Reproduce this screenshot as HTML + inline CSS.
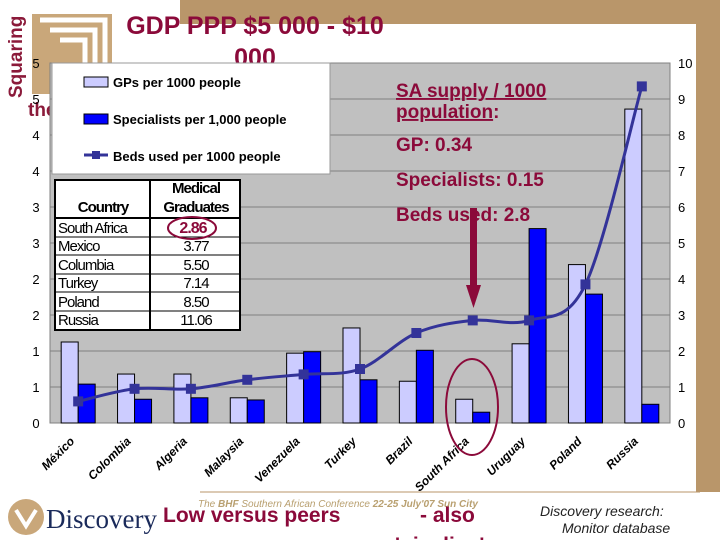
<!DOCTYPE html>
<html><head><meta charset="utf-8"><style>
body{margin:0;width:720px;height:540px;overflow:hidden;background:#fff;font-family:"Liberation Sans",sans-serif}
svg{position:absolute;left:0;top:0}
</style></head><body>
<svg width="720" height="540" viewBox="0 0 720 540">
<rect x="180" y="0" width="540" height="24" fill="#b9966a"/>
<rect x="696" y="0" width="24" height="492" fill="#b9966a"/>
<line x1="200" y1="492" x2="700" y2="492" stroke="#b9966a" stroke-width="1"/>
<g>
<rect x="32" y="14" width="80" height="80" fill="#c9a77a"/>
<path d="M40 20 L105 20 L105 85 M50 30 L95 30 L95 75 M60 40 L85 40 L85 65" stroke="#fff" stroke-width="5" fill="none"/>
<text x="22" y="98" transform="rotate(-90 22 98)" font-size="19" font-weight="bold" fill="#8b1a3a">Squaring</text>
<text x="28" y="116" font-size="19" font-weight="bold" fill="#8b1a3a">the</text>
</g>
<text x="255" y="34" text-anchor="middle" font-size="25" font-weight="bold" fill="#8b0a3a">GDP PPP $5 000 - $10</text>
<text x="255" y="66" text-anchor="middle" font-size="25" font-weight="bold" fill="#8b0a3a">000</text>
<rect x="50" y="63" width="620" height="360" fill="#c0c0c0" stroke="#808080"/>
<g id="grid"></g><g id="axes"></g><g id="bars"></g><g id="line"></g><g id="xl"></g>
<g>
<rect x="52" y="63" width="278" height="111" fill="#fff" stroke="#999"/>
<rect x="84" y="77" width="24" height="10" fill="#ccccff" stroke="#000"/>
<text x="113" y="87" font-size="13" font-weight="bold">GPs per 1000 people</text>
<rect x="84" y="114" width="24" height="10" fill="#0000ff" stroke="#000"/>
<text x="113" y="124" font-size="13" font-weight="bold">Specialists per 1,000 people</text>
<line x1="84" y1="155" x2="108" y2="155" stroke="#333399" stroke-width="3"/><rect x="92" y="151" width="8" height="8" fill="#333399"/>
<text x="113" y="161" font-size="13" font-weight="bold">Beds used per 1000 people</text>
</g>
<g font-size="15" letter-spacing="-1">
<rect x="55" y="180" width="185" height="150" fill="#fff" stroke="#000" stroke-width="2"/>
<line x1="150" y1="180" x2="150" y2="330" stroke="#000" stroke-width="2"/>
<line x1="55" y1="218" x2="240" y2="218" stroke="#000" stroke-width="2"/>
<line x1="55" y1="237" x2="240" y2="237" stroke="#000"/><line x1="55" y1="255" x2="240" y2="255" stroke="#000"/>
<line x1="55" y1="274" x2="240" y2="274" stroke="#000"/><line x1="55" y1="292" x2="240" y2="292" stroke="#000"/>
<line x1="55" y1="311" x2="240" y2="311" stroke="#000"/>
<text x="103" y="212" text-anchor="middle" font-weight="bold">Country</text>
<text x="196" y="193" text-anchor="middle" font-weight="bold">Medical</text>
<text x="196" y="212" text-anchor="middle" font-weight="bold">Graduates</text>
<text x="58" y="233">South Africa</text><text x="58" y="251">Mexico</text><text x="58" y="270">Columbia</text>
<text x="58" y="288">Turkey</text><text x="58" y="307">Poland</text><text x="58" y="325">Russia</text>
<text x="193" y="233" text-anchor="middle" font-weight="bold" fill="#8b0a3a" font-size="16">2.86</text>
<ellipse cx="192" cy="228" rx="24" ry="11" fill="none" stroke="#8b0a3a" stroke-width="2"/>
<text x="196" y="251" text-anchor="middle">3.77</text><text x="196" y="270" text-anchor="middle">5.50</text>
<text x="196" y="288" text-anchor="middle">7.14</text><text x="196" y="307" text-anchor="middle">8.50</text>
<text x="196" y="325" text-anchor="middle">11.06</text>
</g>
<g font-size="19" font-weight="bold" fill="#8b0a3a">
<text x="396" y="97" text-decoration="underline">SA supply / 1000</text>
<text x="396" y="118"><tspan text-decoration="underline">population</tspan>:</text>
<text x="396" y="151">GP: 0.34</text>
<text x="396" y="186">Specialists: 0.15</text>
<text x="396" y="221">Beds used: 2.8</text>
<rect x="470" y="208" width="7" height="80" fill="#8b0a3a"/>
<polygon points="466,285 481,285 473.5,308" fill="#8b0a3a"/>
</g>
<ellipse cx="472" cy="407" rx="26" ry="48" fill="none" stroke="#8b0a3a" stroke-width="2"/>
<g>
<circle cx="26" cy="517" r="18" fill="#c9a77a"/><path d="M16 510 L26 526 L36 510" stroke="#fff" stroke-width="4" fill="none"/>
<text x="46" y="528" font-family="Liberation Serif,serif" font-size="27" fill="#1a2a5a">Discovery</text>
<text x="198" y="507" font-size="10" font-style="italic" fill="#b9a070">The <tspan font-weight="bold">BHF</tspan> Southern African Conference <tspan font-weight="bold">22-25 July'07 Sun City</tspan></text>
<text x="163" y="522" font-size="21" font-weight="bold" fill="#8b0a3a">Low versus peers</text>
<text x="420" y="522" font-size="21" font-weight="bold" fill="#8b0a3a">- also</text>
<text x="395" y="552" font-size="21" font-weight="bold" fill="#8b0a3a">'pipeline'</text>
<text x="540" y="516" font-size="14" font-style="italic" fill="#222">Discovery research:</text>
<text x="562" y="533" font-size="14" font-style="italic" fill="#222">Monitor database</text>
</g>
</svg>
<script>
const categories=["México","Colombia","Algeria","Malaysia","Venezuela","Turkey","Brazil","South Africa","Uruguay","Poland","Russia"];
const gps=[1.125,0.68,0.68,0.35,0.97,1.32,0.58,0.33,1.1,2.2,4.36];
const specialists=[0.54,0.33,0.35,0.32,0.99,0.6,1.01,0.15,2.7,1.79,0.26];
const beds=[0.6,0.95,0.95,1.2,1.35,1.5,2.5,2.85,2.85,3.85,9.35];
const leftTicks=["0","1","1","2","2","3","3","4","4","5","5"];
const rightTicks=["0","1","2","3","4","5","6","7","8","9","10"];
const NS="http://www.w3.org/2000/svg";
const X0=50,X1=670,Y0=423,Y1=63;
const band=(X1-X0)/categories.length;
const cx=i=>X0+band*(i+0.5);
const yL=v=>Y0-v/5*(Y0-Y1);
const yR=v=>Y0-v/10*(Y0-Y1);
function mk(tag,attrs,parent,txt){const e=document.createElementNS(NS,tag);for(const k in attrs)e.setAttribute(k,attrs[k]);if(txt!==undefined)e.textContent=txt;document.getElementById(parent).appendChild(e);return e;}
for(let i=0;i<=10;i++){const y=Y0-i*(Y0-Y1)/10;
const g=mk('line',{x1:X0,x2:X1,y1:y,y2:y,stroke:'#808080'},'grid');


const t=mk('text',{x:36,y:y+5,'text-anchor':'middle','font-size':13},'axes',leftTicks[i]);


const r=mk('text',{x:678,y:y+5,'font-size':13},'axes',rightTicks[i]);

}
const bw=17;
categories.forEach((c,i)=>{
const a=mk('rect',{x:cx(i)-bw,y:yL(gps[i]),width:bw,height:Y0-yL(gps[i]),fill:'#ccccff',stroke:'#000'},'bars');


const b=mk('rect',{x:cx(i),y:yL(specialists[i]),width:bw,height:Y0-yL(specialists[i]),fill:'#0000ff',stroke:'#000'},'bars');


const l=mk('text',{x:0,y:0,'font-size':12,'font-weight':'bold','font-style':'italic','text-anchor':'end',transform:`translate(${cx(i)-3},${442}) rotate(-45)`},'xl',c);


});
const pts=beds.map((v,i)=>[cx(i),yR(v)]);
let d=`M${pts[0][0]},${pts[0][1]}`;
for(let i=0;i<pts.length-1;i++){const p0=pts[Math.max(0,i-1)],p1=pts[i],p2=pts[i+1],p3=pts[Math.min(pts.length-1,i+2)];
d+=` C${p1[0]+(p2[0]-p0[0])/6},${p1[1]+(p2[1]-p0[1])/6} ${p2[0]-(p3[0]-p1[0])/6},${p2[1]-(p3[1]-p1[1])/6} ${p2[0]},${p2[1]}`;}
const ln=mk('path',{d:d,fill:'none',stroke:'#333399','stroke-width':3},'line');


pts.forEach(p=>{const m=mk('rect',{x:p[0]-5,y:p[1]-5,width:10,height:10,fill:'#333399'},'line');

});
</script>
</body></html>
